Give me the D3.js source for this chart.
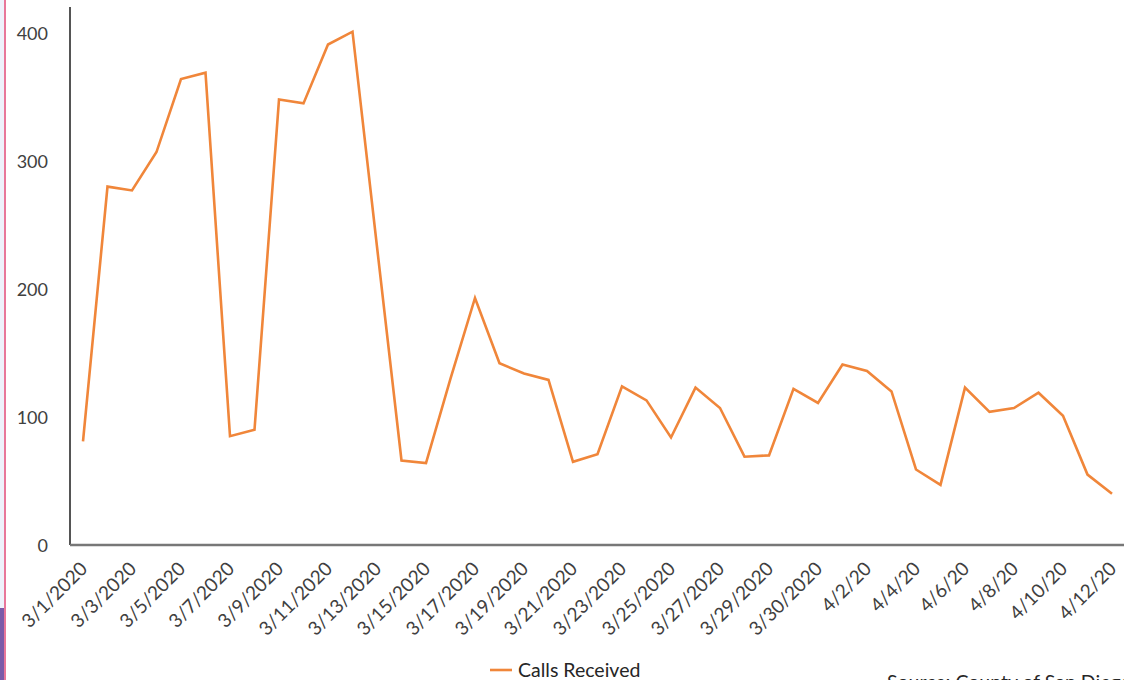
<!DOCTYPE html>
<html><head><meta charset="utf-8">
<script src="https://cdn.jsdelivr.net/npm/d3@7"></script>
<style>
html,body{margin:0;padding:0;background:#fff;overflow:hidden}
svg{display:block;font-family:Lato,"Open Sans",sans-serif}
</style></head>
<body>
<svg id="chart" width="1124" height="680"></svg>
<script>
const dates = [
 "3/1/2020","3/2/2020","3/3/2020","3/4/2020","3/5/2020","3/6/2020","3/7/2020","3/8/2020","3/9/2020","3/10/2020",
 "3/11/2020","3/12/2020","3/13/2020","3/14/2020","3/15/2020","3/16/2020","3/17/2020","3/18/2020","3/19/2020","3/20/2020",
 "3/21/2020","3/22/2020","3/23/2020","3/24/2020","3/25/2020","3/26/2020","3/27/2020","3/28/2020","3/29/2020","3/29/2020 ",
 "3/30/2020","4/1/20","4/2/20","4/3/20","4/4/20","4/5/20","4/6/20","4/7/20","4/8/20","4/9/20",
 "4/10/20","4/11/20","4/12/20"];
const calls = [
 81,280,277,307,364,369,85,90,348,345,
 391,401,233,66,64,130,193,142,134,129,
 65,71,124,113,84,123,107,69,70,122,
 111,141,136,120,59,47,123,104,107,119,
 101,55,40];
const yTicks = [0,100,200,300,400];
const seriesName = "Calls Received";
const sourceText = "Source: County of San Diego";

const svg = d3.select("#chart");
// page decoration at left edge
svg.append("rect").attr("x",0).attr("y",0).attr("width",4).attr("height",680).attr("fill","#eef2fb");
svg.append("rect").attr("x",0).attr("y",608).attr("width",4).attr("height",72).attr("fill","#7b5aa8");
svg.append("rect").attr("x",4).attr("y",0).attr("width",2).attr("height",680).attr("fill","#e8779a");

const x = d3.scalePoint().domain(d3.range(dates.length)).range([83,1112]);
const y = d3.scaleLinear().domain([0,400]).range([545,33]);

// y axis
const ya = svg.append("g").attr("transform","translate(70,0)")
  .call(d3.axisLeft(y).tickValues(yTicks).tickSize(0).tickPadding(22));
ya.select(".domain").attr("d","M0,7V545").attr("stroke","#555").attr("stroke-width",2);
ya.selectAll("text").attr("font-size",18).attr("fill","#404040").attr("font-family","Lato").attr("dy","0.35em");

// x axis
const xa = svg.append("g").attr("transform","translate(0,545)")
  .call(d3.axisBottom(x).tickValues(d3.range(0,dates.length,2)).tickSize(0).tickFormat(i=>dates[i]));
xa.select(".domain").attr("d","M70,0H1124").attr("stroke","#777").attr("stroke-width",2.5);
xa.selectAll("text")
  .attr("font-size",19).attr("fill","#404040").attr("font-family","Lato")
  .attr("text-anchor","end").attr("dy",null).attr("y",0)
  .attr("transform","translate(5,25) rotate(-45)");

// line
const line = d3.line().x((d,i)=>x(i)).y(d=>y(d));
svg.append("path").datum(calls).attr("d",line)
  .attr("fill","none").attr("stroke","#F0863A").attr("stroke-width",2.6).attr("stroke-linejoin","miter");

// legend
svg.append("line").attr("x1",490).attr("x2",512).attr("y1",670).attr("y2",670)
  .attr("stroke","#F0863A").attr("stroke-width",2.6);
svg.append("text").attr("x",518).attr("y",677).text(seriesName)
  .attr("font-size",19.5).attr("fill","#262626").attr("font-family","Lato");

// source
svg.append("text").attr("x",887).attr("y",689).text(sourceText)
  .attr("font-size",19.5).attr("fill","#262626").attr("font-family","Lato");
</script>
</body></html>
